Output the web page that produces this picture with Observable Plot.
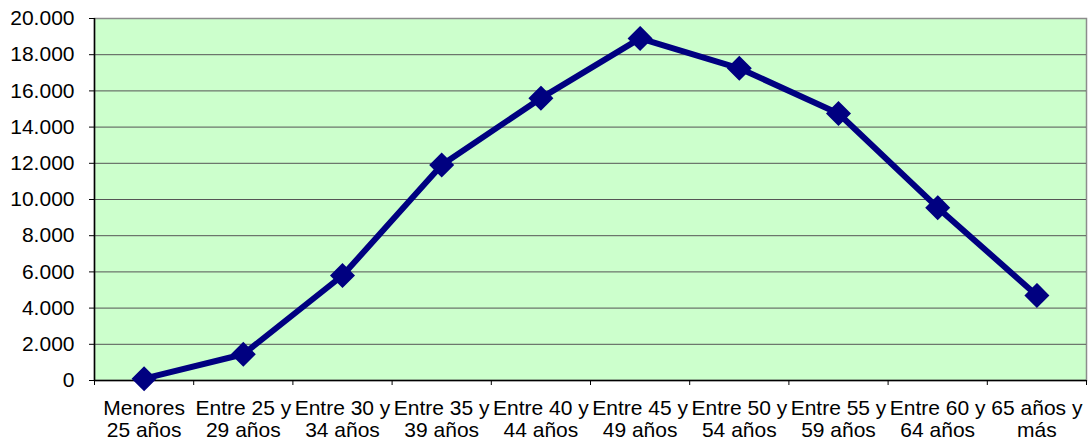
<!DOCTYPE html>
<html><head><meta charset="utf-8">
<script src="https://cdn.jsdelivr.net/npm/d3@7"></script>
<script src="https://cdn.jsdelivr.net/npm/@observablehq/plot@0.6"></script>
<style>body{margin:0;background:#fff}</style>
</head><body><div id="chart"></div>
<script>
const categories = ["Menores\n25 años","Entre 25 y\n29 años","Entre 30 y\n34 años","Entre 35 y\n39 años","Entre 40 y\n44 años","Entre 45 y\n49 años","Entre 50 y\n54 años","Entre 55 y\n59 años","Entre 60 y\n64 años","65 años y\nmás"];
const values = [100, 1450, 5800, 11900, 15600, 18900, 17250, 14750, 9550, 4700];
const yTicks = [0,2000,4000,6000,8000,10000,12000,14000,16000,18000,20000];

const data = categories.map((c,i)=>({pos: i+0.5, label: c, value: values[i]}));
const fmt = d => d3.format(",")(d).replace(/,/g, ".");

const chart = Plot.plot({
  width: 1090, height: 446,
  marginLeft: 94, marginRight: 4, marginTop: 18, marginBottom: 66,
  style: {fontFamily: "'Liberation Sans', Arial, sans-serif", fontSize: "21px", color: "#000", background: "#fff"},
  x: {type: "linear", domain: [0, categories.length]},
  y: {domain: [0, 20000]},
  marks: [
    Plot.frame({fill: "#CCFFCC", stroke: "#8c8c8c", strokeWidth: 1.5}),
    Plot.gridY(yTicks.filter(v => v > 0 && v < 20000), {stroke: "#555", strokeOpacity: 1}),
    Plot.ruleY([0], {stroke: "#000", strokeWidth: 1.5}),
    Plot.ruleX([0], {stroke: "#000", strokeWidth: 1.5}),
    Plot.axisY(yTicks, {tickSize: 5, tickPadding: 15, tickFormat: fmt, stroke: "#000", label: null, fontSize: 21}),
    Plot.axisX(d3.range(categories.length + 1), {tickSize: 5, tickFormat: () => "", stroke: "#000", label: null}),
    Plot.axisX(data.map(d => d.pos), {tickSize: 0, tickPadding: 18, tickFormat: t => categories[Math.floor(t)], lineHeight: 1.08, label: null, fontSize: 21}),
    Plot.line(data, {x: "pos", y: "value", stroke: "#000080", strokeWidth: 6}),
    Plot.dot(data, {x: "pos", y: "value", symbol: "diamond2", r: 10, fill: "#000080", stroke: "#000080", strokeWidth: 2})
  ]
});
document.getElementById("chart").append(chart);
</script>
</body></html>
